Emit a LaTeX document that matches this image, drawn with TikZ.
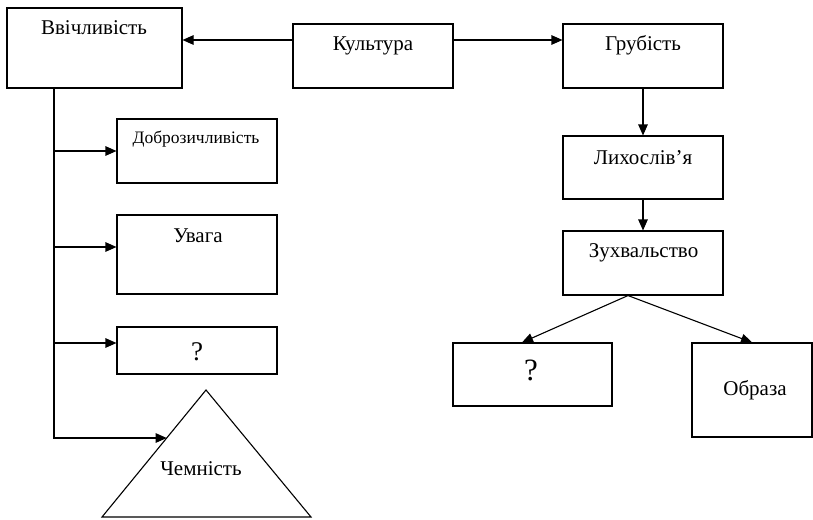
\documentclass[tikz,border=0pt]{standalone}
\usepackage{fontspec}
\setmainfont{Liberation Serif}
\usetikzlibrary{arrows.meta,calc}

\tikzset{
  box/.style={draw, line width=1.1pt, rectangle, inner sep=0pt},
  lbl/.style={anchor=base, inner sep=0pt, font=\fontsize{21}{24}\selectfont},
  small/.style={lbl, font=\fontsize{17.5}{20}\selectfont},
  conn/.style={line width=1.1pt},
  arr/.style={conn, -{Triangle[length=11pt, width=9.5pt]}}
}

\begin{document}
\begin{tikzpicture}[x=1pt, y=-1pt]
  \useasboundingbox (0,0) rectangle (813,519);

  % boxes
  \node[box, minimum width=175pt, minimum height=80pt] (vv)    at (94.5,48)  {};
  \node[box, minimum width=160pt, minimum height=64pt] (kult)  at (373,56)   {};
  \node[box, minimum width=160pt, minimum height=64pt] (grub)  at (643,56)   {};
  \node[box, minimum width=160pt, minimum height=63pt] (lyx)   at (643,167.5){};
  \node[box, minimum width=160pt, minimum height=64pt] (zux)   at (643,263)  {};
  \node[box, minimum width=160pt, minimum height=64pt] (dobr)  at (197,151)  {};
  \node[box, minimum width=160pt, minimum height=79pt] (uvaga) at (197,254.5){};
  \node[box, minimum width=160pt, minimum height=47pt] (qa)    at (197,350.5){};
  \node[box, minimum width=159pt, minimum height=63pt] (qb)    at (532.5,374.5){};
  \node[box, minimum width=120pt, minimum height=94pt] (obr)   at (752,390)  {};

  % triangle
  \coordinate (tapex) at (206,390);
  \coordinate (tleft) at (102,517);
  \coordinate (tright) at (311,517);
  \draw[conn, line join=miter] (tapex) -- (tleft) -- (tright) -- cycle;
  \coordinate (tside) at ($(tleft)!0.622!(tapex)$);

  % labels
  \node[lbl]   (tvv)    at (94,35)   {Ввічливість};
  \node[lbl]   (tkult)  at (373,51)  {Культура};
  \node[lbl]   (tgrub)  at (643,51)  {Грубість};
  \node[lbl]   (tlyx)   at (643,164) {Лихослів’я};
  \node[lbl]   (tzux)   at (643.5,257) {Зухвальство};
  \node[small] (tdobr)  at (196,143.5) {Доброзичливість};
  \node[lbl]   (tuvaga) at (198,242) {Увага};
  \node[lbl, font=\fontsize{27}{30}\selectfont] (tqa) at (197,360) {?};
  \node[lbl, font=\fontsize{31}{34}\selectfont] (tqb) at (531,380) {?};
  \node[lbl]   (tobr)   at (755,395) {Образа};
  \node[lbl]   (tchem)  at (201,475) {Чемність};

  % top row
  \draw[arr] ([yshift=16pt]kult.west) -- ([yshift=16pt]kult.west -| vv.east);
  \draw[arr] ([yshift=16pt]kult.east) -- ([yshift=16pt]kult.east -| grub.west);

  % right column
  \draw[arr] (grub.south) -- (lyx.north);
  \draw[arr] (lyx.south) -- (zux.north);
  \coordinate (split) at ([xshift=-15pt]zux.south);
  \draw[arr] (split) -- ([xshift=-10.5pt]qb.north);
  \draw[arr] (split) -- (obr.north);

  % left trunk with branches
  \coordinate (trunk) at ([xshift=-40.5pt]vv.south);
  \coordinate (uin) at ([yshift=7.5pt]uvaga.west);
  \coordinate (qin) at ([yshift=7.5pt]qa.west);
  \draw[arr] (trunk) |- (tside);
  \draw[arr] (trunk |- dobr.west) -- (dobr.west);
  \draw[arr] (trunk |- uin) -- (uin);
  \draw[arr] (trunk |- qin) -- (qin);
\end{tikzpicture}
\end{document}
